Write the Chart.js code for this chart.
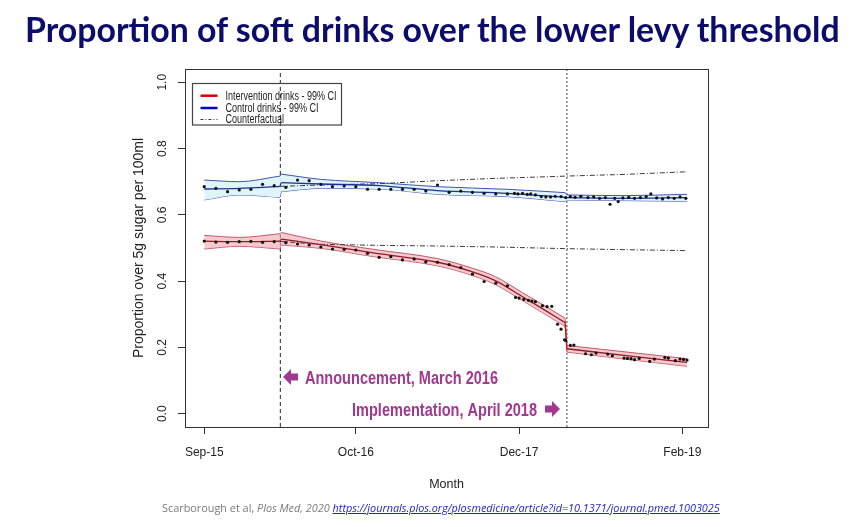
<!DOCTYPE html>
<html>
<head>
<meta charset="utf-8">
<script src="https://cdn.jsdelivr.net/npm/chart.js@4.4.1/dist/chart.umd.min.js"></script>
<style>
  html, body { margin: 0; padding: 0; background: #fff; }
  #wrap { position: relative; width: 857px; height: 527px; overflow: hidden; }
  canvas { position: absolute; left: 0; top: 0; }
  #title { position: absolute; left: 25px; top: 17px; white-space: nowrap; font-family: Lato, "Open Sans", sans-serif;
           font-weight: 700; font-size: 30px; line-height: 1; color: #0c0c6c; }
  #src { position: absolute; left: 162px; top: 503px; white-space: nowrap; font-family: "Open Sans", "Noto Sans", sans-serif;
         font-weight: 400; font-size: 11px; line-height: 1; color: #7a7a7a; }
  #src a { color: #2323c8; text-decoration: underline; font-style: italic; }
</style>
</head>
<body>
<div id="wrap">
  <canvas id="c" width="857" height="527"></canvas>
  <div id="title"><span id="titleText">Proportion of soft drinks over the lower levy threshold</span></div>
  <div id="src"><span id="srcText">Scarborough et al, <i>Plos Med, 2020</i> <a>https://journals.plos.org/plosmedicine/article?id=10.1371/journal.pmed.1003025</a></span></div>
</div>
<script>
// months counted from Sep-15 (= 0)
const tickMonths = [0, 13, 27, 41];
const tickLabels = ['Sep-15', 'Oct-16', 'Dec-17', 'Feb-19'];
const yTicks = [0, 0.2, 0.4, 0.6, 0.8, 1.0];
const announceMonth = 6.53;
const implementMonth = 31.1;

// observed proportions, intervention drinks
const intObsMonth = [0, 1, 2, 3, 4, 5, 6, 7, 8, 9, 10, 11, 12, 13, 14, 15, 16, 17, 18, 19, 20, 21, 22, 23, 24, 25, 26,
  26.7, 27.0, 27.4, 27.8, 28.1, 28.4, 29.0, 29.4, 29.8, 30.3, 30.6, 30.9, 31.0,
  31.4, 31.7, 32.7, 33.2, 33.6, 34.6, 35.0, 36.0, 36.3, 36.6, 36.9, 37.3, 38.2, 38.6, 39.5, 39.8, 40.4, 40.8, 41.1, 41.4];
const intObsValue = [0.521, 0.518, 0.517, 0.519, 0.520, 0.517, 0.519, 0.516, 0.512, 0.509, 0.503, 0.497, 0.496, 0.494,
  0.484, 0.472, 0.474, 0.464, 0.467, 0.458, 0.457, 0.450, 0.441, 0.421, 0.399, 0.394, 0.386,
  0.351, 0.349, 0.345, 0.342, 0.340, 0.338, 0.326, 0.323, 0.324, 0.270, 0.255, 0.223, 0.221,
  0.206, 0.207, 0.181, 0.178, 0.183, 0.180, 0.175, 0.168, 0.167, 0.166, 0.163, 0.167, 0.158, 0.165, 0.170, 0.168, 0.160, 0.165, 0.164, 0.162];

// observed proportions, control drinks
const ctlObsMonth = [0, 1, 2, 3, 4, 5, 6, 7, 8, 9, 10, 11, 12, 13, 14, 15, 16, 17, 18, 19, 20, 21, 22, 23, 24, 25, 26,
  26.6, 26.9, 27.3, 27.7, 28.0, 28.4, 28.9, 29.3, 29.7, 30.1, 30.6, 31.0,
  31.4, 31.8, 32.3, 32.9, 33.4, 33.9, 34.4, 34.8, 35.2, 35.5, 35.9, 36.4, 36.9, 37.4, 37.9, 38.3, 38.8, 39.3, 39.8, 40.3, 40.8, 41.3];
const ctlObsValue = [0.685, 0.680, 0.670, 0.675, 0.677, 0.692, 0.688, 0.683, 0.705, 0.703, 0.692, 0.685, 0.687, 0.685,
  0.677, 0.677, 0.677, 0.677, 0.677, 0.672, 0.690, 0.668, 0.672, 0.668, 0.665, 0.663, 0.663,
  0.665, 0.663, 0.665, 0.662, 0.663, 0.660, 0.655, 0.654, 0.654, 0.656, 0.655, 0.652,
  0.655, 0.653, 0.656, 0.652, 0.654, 0.650, 0.652, 0.632, 0.650, 0.640, 0.651, 0.653, 0.650, 0.652, 0.655, 0.663,
  0.651, 0.648, 0.652, 0.650, 0.654, 0.650];

// fitted model with 99% CI (segmented at announcement and implementation)
const intFitMonth = [0, 3, 6.5, 6.6, 10, 14.5, 20, 23, 25, 27.3, 29, 30.95, 31.1, 36, 41.4];
const intFit   = [0.521, 0.519, 0.521, 0.527, 0.510, 0.485, 0.457, 0.428, 0.401, 0.353, 0.317, 0.275, 0.196, 0.176, 0.155];
const intLower = [0.497, 0.505, 0.497, 0.509, 0.499, 0.474, 0.446, 0.417, 0.389, 0.341, 0.305, 0.263, 0.186, 0.165, 0.143];
const intUpper = [0.538, 0.532, 0.543, 0.547, 0.521, 0.496, 0.468, 0.439, 0.413, 0.365, 0.330, 0.288, 0.206, 0.187, 0.166];
const intSegments = [[0, 3], [3, 12], [12, 15]];

const ctlFitMonth = [0, 3, 6.5, 6.6, 10, 15, 20, 26, 30.95, 31.1, 36, 41.4];
const ctlFit   = [0.678, 0.680, 0.686, 0.697, 0.693, 0.688, 0.673, 0.665, 0.653, 0.652, 0.650, 0.652];
const ctlLower = [0.645, 0.660, 0.653, 0.670, 0.680, 0.678, 0.662, 0.655, 0.640, 0.645, 0.643, 0.641];
const ctlUpper = [0.705, 0.700, 0.717, 0.723, 0.707, 0.697, 0.685, 0.677, 0.667, 0.660, 0.658, 0.662];
const ctlSegments = [[0, 3], [3, 9], [9, 12]];

// counterfactual (no announcement)
const cfMonth = [6.5, 10, 15, 20, 25, 31.1, 36, 41.4];
const cfIntervention = [0.520, 0.511, 0.508, 0.506, 0.503, 0.498, 0.495, 0.492];
const cfControl      = [0.686, 0.690, 0.694, 0.703, 0.710, 0.717, 0.722, 0.730];

const pts = (xs, ys, from, to) => xs.slice(from, to).map((x, i) => ({ x: x, y: ys[from + i] }));
const vline = m => [{ x: m, y: -0.04 }, { x: m, y: 1.04 }];

const SANS = '"Liberation Sans", Arial, sans-serif';
Chart.defaults.font.family = SANS;
Chart.defaults.color = '#222';

// band + fitted line datasets, one set per model segment; the joins between segments are straight
function modelDatasets(xs, fit, lo, hi, segments, s) {
  const out = [];
  const pieces = [];
  segments.forEach((seg, i) => {
    pieces.push({ from: seg[0], to: seg[1], curve: true });
    if (i < segments.length - 1) pieces.push({ from: seg[1] - 1, to: seg[1] + 1, curve: false });
  });
  pieces.forEach(p => {
    const mode = p.curve ? { cubicInterpolationMode: 'monotone' } : { tension: 0 };
    out.push(Object.assign({ data: pts(xs, hi, p.from, p.to), borderColor: s.edge, borderWidth: 1, backgroundColor: s.fill,
      fill: '+1', pointRadius: 0, order: 5 }, mode));
    out.push(Object.assign({ data: pts(xs, lo, p.from, p.to), borderColor: s.edge, borderWidth: 1, fill: false,
      pointRadius: 0, order: 5 }, mode));
  });
  pieces.forEach(p => {
    const mode = p.curve ? { cubicInterpolationMode: 'monotone' } : { tension: 0 };
    out.push(Object.assign({ data: pts(xs, fit, p.from, p.to), borderColor: p.curve ? s.line : s.joint,
      borderWidth: 1.3, fill: false, pointRadius: 0, order: 3 }, mode));
  });
  return out;
}

const cfLine = { borderColor: '#3a3a3a', borderWidth: 1, borderDash: [5, 2, 1, 2], pointRadius: 0, fill: false, order: 4 };
const dots = { showLine: false, pointRadius: 1.6, pointBackgroundColor: '#111', pointBorderWidth: 0, order: 1 };

// draw text squeezed horizontally (the original plot is condensed)
function squeezed(ctx, text, x, y, sx) {
  ctx.save();
  ctx.translate(x, y);
  ctx.scale(sx, 1);
  ctx.fillText(text, 0, 0);
  ctx.restore();
}

const overlay = {
  id: 'overlay',
  afterDraw(chart) {
    const { ctx, chartArea: a } = chart;
    ctx.save();
    // plot box
    ctx.strokeStyle = '#333';
    ctx.lineWidth = 1;
    ctx.setLineDash([]);
    ctx.strokeRect(Math.round(a.left) + 0.5, Math.round(a.top) + 0.5, Math.round(a.right - a.left), Math.round(a.bottom - a.top));

    // legend (top left, inside the plot)
    const lx = Math.round(a.left) + 7.5, ly = Math.round(a.top) + 14.5;
    ctx.strokeStyle = '#444';
    ctx.lineWidth = 1.2;
    ctx.strokeRect(lx, ly, 149, 41.5);
    const items = [
      { text: 'Intervention drinks - 99% CI', color: '#d40000', width: 2.5, dash: [] },
      { text: 'Control drinks - 99% CI', color: '#0000c8', width: 2.5, dash: [] },
      { text: 'Counterfactual', color: '#3a3a3a', width: 1, dash: [3, 2, 1, 2] }
    ];
    const rowY = [12.2, 24.5, 36.0];
    ctx.font = '12px ' + SANS;
    ctx.textBaseline = 'middle';
    const lsx = 111 / ctx.measureText(items[0].text).width;
    items.forEach((it, i) => {
      const y = ly + rowY[i];
      ctx.beginPath();
      ctx.strokeStyle = it.color;
      ctx.lineWidth = it.width;
      ctx.setLineDash(it.dash);
      ctx.moveTo(lx + 8, y);
      ctx.lineTo(lx + 25, y);
      ctx.stroke();
      ctx.fillStyle = '#222';
      squeezed(ctx, it.text, lx + 33, y + 0.5, lsx);
    });
    ctx.setLineDash([]);

    // slide annotations
    ctx.fillStyle = '#a2388f';
    ctx.font = 'bold 18px ' + SANS;
    ctx.textBaseline = 'alphabetic';
    const t1 = 'Announcement, March 2016', t2 = 'Implementation, April 2018';
    squeezed(ctx, t1, 305, 383.5, 193 / ctx.measureText(t1).width);
    squeezed(ctx, t2, 352, 415.5, 185 / ctx.measureText(t2).width);
    const arrow = (tipX, y, dir) => {
      ctx.beginPath();
      ctx.moveTo(tipX, y);
      ctx.lineTo(tipX + dir * 8, y - 8);
      ctx.lineTo(tipX + dir * 8, y - 3.5);
      ctx.lineTo(tipX + dir * 15, y - 3.5);
      ctx.lineTo(tipX + dir * 15, y + 3.5);
      ctx.lineTo(tipX + dir * 8, y + 3.5);
      ctx.lineTo(tipX + dir * 8, y + 8);
      ctx.closePath();
      ctx.fill();
    };
    arrow(283, 377, 1);
    arrow(560, 409, -1);
    ctx.restore();
  }
};

const datasets = [].concat(
  modelDatasets(intFitMonth, intFit, intLower, intUpper, intSegments,
    { edge: '#c25866', fill: 'rgba(238,165,176,0.6)', line: '#8e1d24', joint: '#d01010' }),
  modelDatasets(ctlFitMonth, ctlFit, ctlLower, ctlUpper, ctlSegments,
    { edge: '#4252ad', fill: 'rgb(222,245,251)', line: '#26318f', joint: '#26318f' }),
  [
    Object.assign({ data: pts(cfMonth, cfIntervention, 0) }, cfLine),
    Object.assign({ data: pts(cfMonth, cfControl, 0) }, cfLine),
    Object.assign({ data: pts(intObsMonth, intObsValue, 0) }, dots),
    Object.assign({ data: pts(ctlObsMonth, ctlObsValue, 0) }, dots),
    { data: vline(announceMonth), borderColor: '#4a4a4a', borderWidth: 1.2, borderDash: [4, 3], pointRadius: 0, fill: false, order: 6 },
    { data: vline(implementMonth), borderColor: '#666', borderWidth: 1.2, borderDash: [2, 2], pointRadius: 0, fill: false, order: 6 }
  ]
);

new Chart(document.getElementById('c'), {
  type: 'line',
  data: { datasets: datasets },
  options: {
    responsive: false,
    animation: false,
    devicePixelRatio: 1,
    layout: { padding: { left: 125, right: 149, top: 69, bottom: 0 } },
    plugins: { legend: { display: false }, tooltip: { enabled: false } },
    scales: {
      x: {
        type: 'linear', min: -1.65, max: 43.2,
        afterFit: s => { s.height = 100; },
        afterBuildTicks: s => { s.ticks = tickMonths.map(v => ({ value: v })); },
        ticks: { callback: v => tickLabels[tickMonths.indexOf(v)], font: { size: 12 }, color: '#222', padding: 11, maxRotation: 0, autoSkip: false },
        grid: { drawOnChartArea: false, drawTicks: true, tickLength: 7, color: '#333' },
        border: { display: true, color: '#333' },
        title: { display: true, text: 'Month', font: { size: 12.5 }, color: '#222', padding: { bottom: 35 } }
      },
      y: {
        min: -0.04, max: 1.04,
        afterFit: s => { s.width = 60; },
        afterBuildTicks: s => { s.ticks = yTicks.map(v => ({ value: v })); },
        ticks: { callback: v => v.toFixed(1), font: { size: 12 }, color: '#222', minRotation: 90, maxRotation: 90, crossAlign: 'center', padding: 7 },
        grid: { drawOnChartArea: false, drawTicks: true, tickLength: 7, color: '#333' },
        border: { display: true, color: '#333' },
        title: { display: true, text: 'Proportion over 5g sugar per 100ml', font: { size: 14 }, color: '#222', padding: { top: 6 } }
      }
    }
  },
  plugins: [overlay]
});

// fit the slide texts to their widths in the original
function fitWidth(id, target) {
  const el = document.getElementById(id);
  const w = el.getBoundingClientRect().width;
  const fs = parseFloat(getComputedStyle(el.parentNode).fontSize);
  el.parentNode.style.fontSize = (fs * target / w) + 'px';
  return fs * target / w;
}
const tf = fitWidth('titleText', 815);
document.getElementById('title').style.top = (43.3 - 0.887 * tf) + 'px';
const sf = fitWidth('srcText', 558);
document.getElementById('src').style.top = (512.5 - 0.888 * sf) + 'px';
</script>
</body>
</html>
